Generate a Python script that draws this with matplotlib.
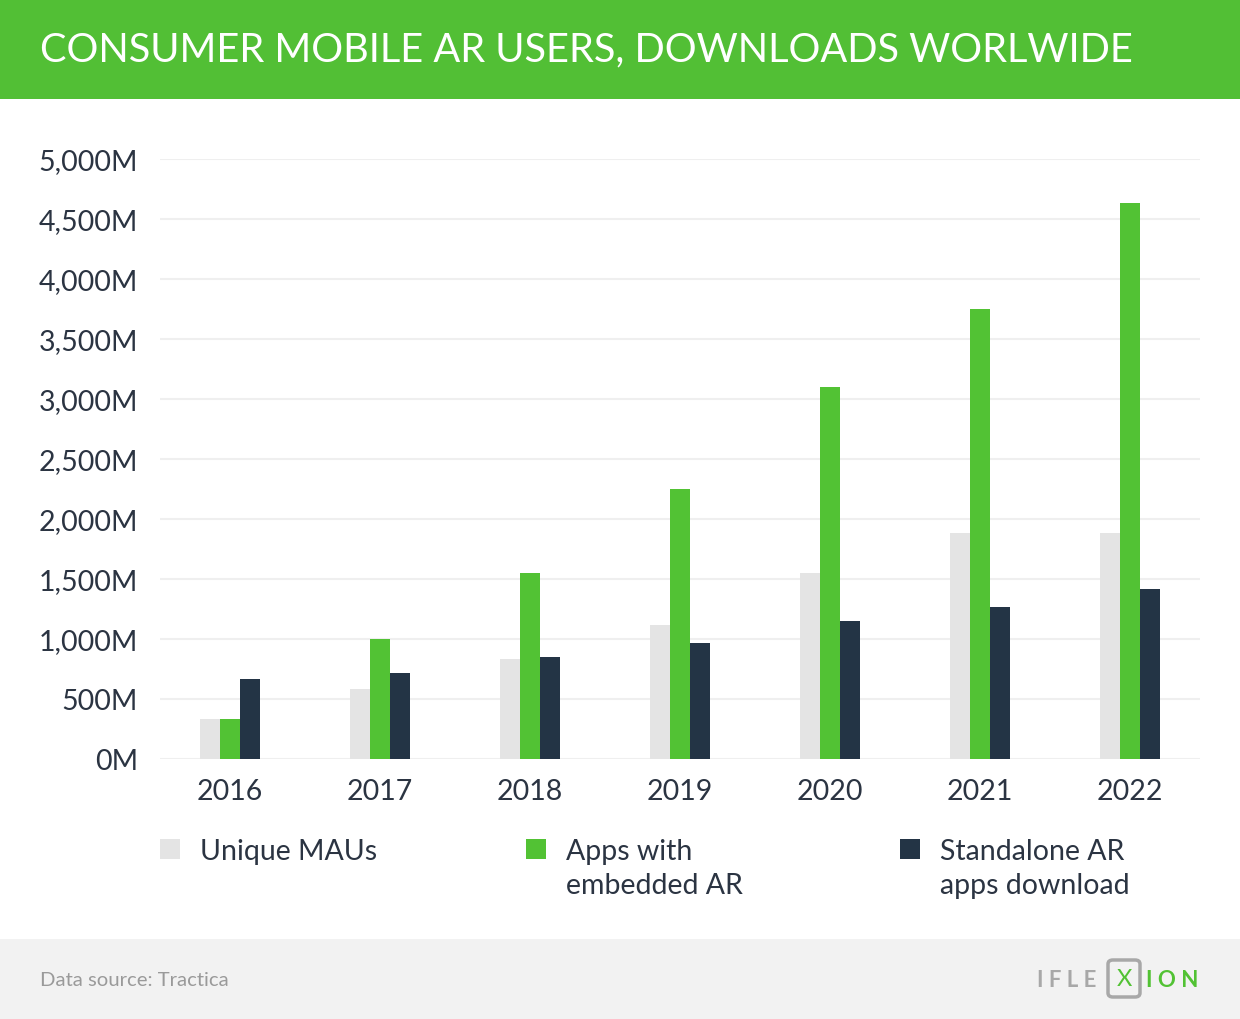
import numpy as np
import matplotlib
matplotlib.use('Agg')
import matplotlib.pyplot as plt
from matplotlib.patches import Rectangle, FancyBboxPatch
from matplotlib.ticker import FuncFormatter

plt.rcParams['font.family'] = ['Lato', 'DejaVu Sans']

#%% data (millions)
years = ['2016', '2017', '2018', '2019', '2020', '2021', '2022']
unique_maus = [333, 583, 833, 1117, 1550, 1883, 1883]
apps_embedded_ar = [333, 1000, 1550, 2250, 3100, 3750, 4633]
standalone_downloads = [667, 717, 850, 967, 1150, 1267, 1417]
series_names = ['Unique MAUs', 'Apps with\nembedded AR', 'Standalone AR\napps download']

GREEN = '#52c234'
DARK = '#233445'
LIGHT = '#e4e4e4'
TXT = '#2b3442'

W, H = 1240, 1020
fig = plt.figure(figsize=(W/100, H/100), dpi=100)
fig.patch.set_facecolor('white')

def fx(px):
    return px/W

def fy(py):
    return 1 - py/H

# header + footer bands
fig.patches.append(Rectangle((0, fy(100)), 1, 100/H, transform=fig.transFigure,
                             facecolor='#52bf35', edgecolor='none', zorder=0))
fig.patches.append(Rectangle((0, 0), 1, 80/H, transform=fig.transFigure,
                             facecolor='#f2f2f2', edgecolor='none', zorder=0))
fig.text(fx(40), fy(50), 'CONSUMER MOBILE AR USERS, DOWNLOADS WORLWIDE',
         color='white', fontsize=28.6, fontweight='normal', va='center', ha='left')

#%% axes
ax = fig.add_axes([fx(160), fy(760), 1040/W, 600/H])
x = np.arange(len(years))
bw = 20/150
ax.bar(x - bw, unique_maus, bw, color=LIGHT, zorder=2)
ax.bar(x, apps_embedded_ar, bw, color=GREEN, zorder=2)
ax.bar(x + bw, standalone_downloads, bw, color=DARK, zorder=2)

ax.set_xlim(-70/150, 6 + 70/150)
ax.set_ylim(0, 5000)
ax.set_yticks(np.arange(0, 5001, 500))
ax.yaxis.set_major_formatter(FuncFormatter(lambda v, p: '{:,.0f}M'.format(v)))
ax.set_xticks(x)
ax.set_xticklabels(years)
ax.grid(axis='y', color='#efefef', linewidth=1.5, zorder=0)
ax.set_axisbelow(True)
for s in ax.spines.values():
    s.set_visible(False)
ax.tick_params(length=0, labelsize=20.5, colors=TXT)
ax.tick_params(axis='y', pad=16)
ax.tick_params(axis='x', pad=14)

#%% legend (manual, three columns)
leg_x = [160, 526, 900]
leg_c = [LIGHT, GREEN, DARK]
for lx, c, name in zip(leg_x, leg_c, series_names):
    fig.patches.append(Rectangle((fx(lx), fy(860)), 20/W, 20/H, transform=fig.transFigure,
                                 facecolor=c, edgecolor='none'))
    fig.text(fx(lx + 40), fy(839), name, color=TXT, fontsize=20.5, va='top', ha='left',
             linespacing=1.38)

#%% footer
fig.text(fx(40), fy(981), 'Data source: Tractica', color='#9a9a9a', fontsize=14.6,
         va='center', ha='left')
fig.text(fx(1096), fy(981), 'I F L E', color='#a8a8a8', fontsize=16, fontweight='bold',
         va='center', ha='right')
fig.text(fx(1146), fy(981), 'I O N', color=GREEN, fontsize=16, fontweight='bold',
         va='center', ha='left')
fig.patches.append(FancyBboxPatch((fx(1108), fy(998)), 32/W, 37/H, transform=fig.transFigure,
                                  boxstyle='round,pad=0,rounding_size=0.004',
                                  facecolor='none', edgecolor='#a8a8a8', linewidth=2.5))
fig.text(fx(1124), fy(980), 'X', color=GREEN, fontsize=17, va='center', ha='center')

fig.savefig('out.png', dpi=100)
